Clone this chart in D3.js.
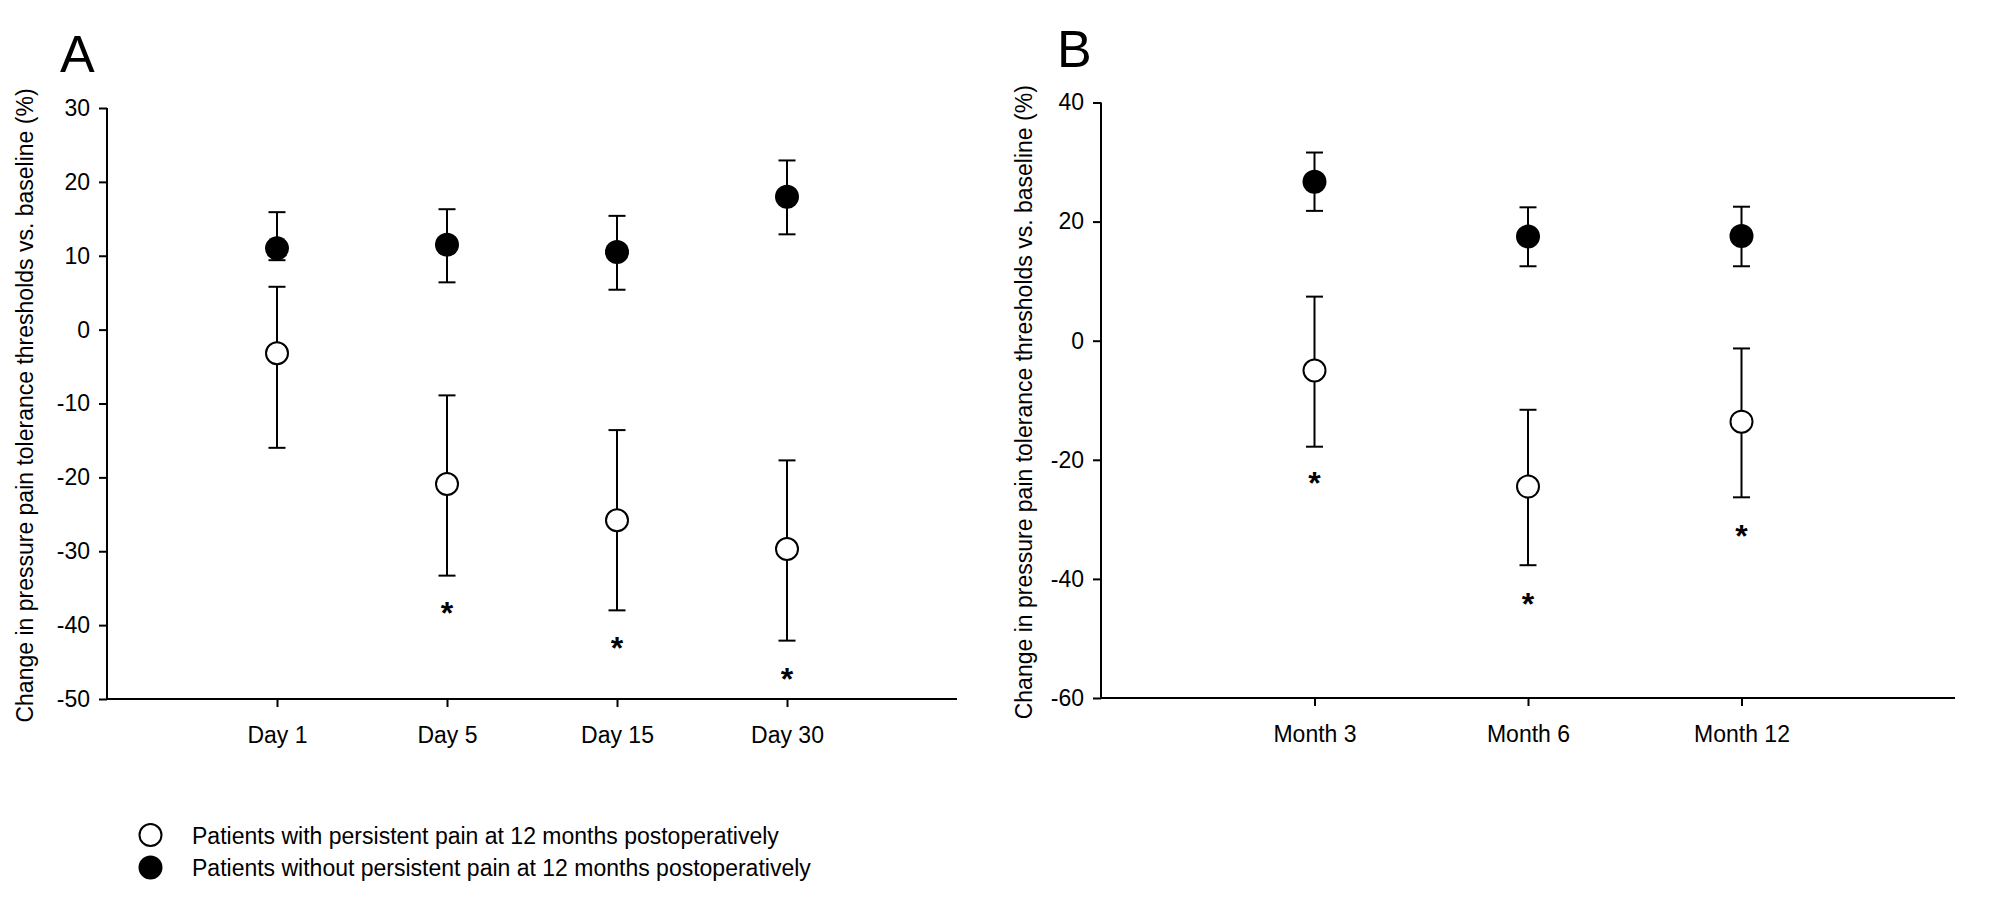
<!DOCTYPE html>
<html>
<head>
<meta charset="utf-8">
<script src="https://cdn.jsdelivr.net/npm/d3@7"></script>
<style>
  html, body { margin: 0; padding: 0; background: #fff; }
  svg { display: block; }
  text { font-family: "Liberation Sans", Arial, Helvetica, sans-serif; fill: #000; }
</style>
</head>
<body>
<svg id="chart" width="2000" height="904"></svg>
<script>
// ---------- Data ----------
const categoriesA = ["Day 1", "Day 5", "Day 15", "Day 30"];
const withPainA      = [-3.2, -20.9, -25.8, -29.7];
const withPainA_hi   = [5.8, -8.9, -13.6, -17.7];
const withPainA_lo   = [-16.0, -33.3, -38.0, -42.1];
const withoutPainA    = [11.0, 11.5, 10.5, 18.0];
const withoutPainA_hi = [15.9, 16.3, 15.4, 22.9];
const withoutPainA_lo = [9.4, 6.4, 5.4, 12.9];
const starsA = [null, -37.4, -42.1, -46.3];
const yTicksA = [-50, -40, -30, -20, -10, 0, 10, 20, 30];

const categoriesB = ["Month 3", "Month 6", "Month 12"];
const withPainB      = [-5.0, -24.5, -13.6];
const withPainB_hi   = [7.4, -11.6, -1.3];
const withPainB_lo   = [-17.8, -37.7, -26.3];
const withoutPainB    = [26.7, 17.5, 17.6];
const withoutPainB_hi = [31.6, 22.4, 22.5];
const withoutPainB_lo = [21.8, 12.5, 12.5];
const starsB = [-22.8, -43.0, -31.6];
const yTicksB = [-60, -40, -20, 0, 20, 40];

const legendLabels = [
  "Patients with persistent pain at 12 months postoperatively",
  "Patients without persistent pain at 12 months postoperatively"
];
const yTitle = "Change in pressure pain tolerance thresholds vs. baseline (%)";

// ---------- Drawing ----------
const svg = d3.select("#chart");
svg.append("rect").attr("width", 2000).attr("height", 904).attr("fill", "#fff");

function panel(cfg) {
  const g = svg.append("g");
  const x = d3.scaleLinear().domain([0, cfg.cats.length + 1]).range(cfg.xr);
  const y = d3.scaleLinear().domain(cfg.ydom).range(cfg.yr);

  // panel letter
  g.append("text").attr("x", cfg.letterX).attr("y", cfg.letterY)
    .attr("font-size", 52).text(cfg.letter);

  // y axis
  const ya = g.append("g").attr("transform", `translate(${cfg.xr[0]},0)`)
    .call(d3.axisLeft(y).tickValues(cfg.yticks).tickSize(8).tickPadding(9).tickFormat(d => String(d)));
  ya.select(".domain").attr("stroke-width", 2).attr("d", `M0,${cfg.yr[0]}V${cfg.yr[1]}`);
  ya.selectAll(".tick line").attr("stroke-width", 2);
  ya.selectAll(".tick text").attr("font-size", 23).attr("font-family", "Liberation Sans, Arial, sans-serif");

  // x axis
  const xa = g.append("g").attr("transform", `translate(0,${cfg.yr[0]})`)
    .call(d3.axisBottom(x).tickValues(d3.range(1, cfg.cats.length + 1)).tickSize(8).tickPadding(20)
      .tickFormat(i => cfg.cats[i - 1]));
  xa.select(".domain").attr("stroke-width", 2).attr("d", `M${cfg.xr[0]},0H${cfg.xr[1]}`);
  xa.selectAll(".tick line").attr("stroke-width", 2);
  xa.selectAll(".tick text").attr("font-size", 23).attr("font-family", "Liberation Sans, Arial, sans-serif");

  // y title
  g.append("text")
    .attr("transform", `translate(${cfg.titleX},${(cfg.yr[0] + cfg.yr[1]) / 2 + 2}) rotate(-90)`)
    .attr("text-anchor", "middle").attr("font-size", 23).text(yTitle);

  const cap = 8.5;
  function bars(mean, hi, lo) {
    mean.forEach((m, i) => {
      const cx = x(i + 1);
      g.append("line").attr("x1", cx).attr("x2", cx).attr("y1", y(hi[i])).attr("y2", y(lo[i]))
        .attr("stroke", "#000").attr("stroke-width", 2);
      [hi[i], lo[i]].forEach(v => {
        g.append("line").attr("x1", cx - cap).attr("x2", cx + cap).attr("y1", y(v)).attr("y2", y(v))
          .attr("stroke", "#000").attr("stroke-width", 2);
      });
    });
  }
  bars(cfg.wo, cfg.woHi, cfg.woLo);
  bars(cfg.w, cfg.wHi, cfg.wLo);

  g.selectAll("circle.open").data(cfg.w).join("circle").attr("class", "open")
    .attr("cx", (d, i) => x(i + 1)).attr("cy", d => y(d)).attr("r", 11)
    .attr("fill", "#fff").attr("stroke", "#000").attr("stroke-width", 2);
  g.selectAll("circle.filled").data(cfg.wo).join("circle").attr("class", "filled")
    .attr("cx", (d, i) => x(i + 1)).attr("cy", d => y(d)).attr("r", 12)
    .attr("fill", "#000");

  cfg.stars.forEach((s, i) => {
    if (s === null) return;
    g.append("text").attr("x", x(i + 1)).attr("y", y(s) + 18)
      .attr("text-anchor", "middle").attr("font-size", 32).attr("font-weight", "bold").text("*");
  });
}

panel({
  letter: "A", letterX: 60, letterY: 72, titleX: 33,
  cats: categoriesA, xr: [107, 957], ydom: [-50, 30], yr: [699, 108], yticks: yTicksA,
  w: withPainA, wHi: withPainA_hi, wLo: withPainA_lo,
  wo: withoutPainA, woHi: withoutPainA_hi, woLo: withoutPainA_lo,
  stars: starsA
});
panel({
  letter: "B", letterX: 1057, letterY: 67, titleX: 1032,
  cats: categoriesB, xr: [1101, 1955], ydom: [-60, 40], yr: [698, 102.5], yticks: yTicksB,
  w: withPainB, wHi: withPainB_hi, wLo: withPainB_lo,
  wo: withoutPainB, woHi: withoutPainB_hi, woLo: withoutPainB_lo,
  stars: starsB
});

// legend
const leg = svg.append("g");
const legY = [835, 867.5];
leg.selectAll("circle").data(legendLabels).join("circle")
  .attr("cx", 150.5).attr("cy", (d, i) => legY[i]).attr("r", 11)
  .attr("fill", (d, i) => i === 0 ? "#fff" : "#000").attr("stroke", "#000").attr("stroke-width", 2);
leg.selectAll("text").data(legendLabels).join("text")
  .attr("x", 192).attr("y", (d, i) => legY[i] + 8.5).attr("font-size", 23).text(d => d);
</script>
</body>
</html>
